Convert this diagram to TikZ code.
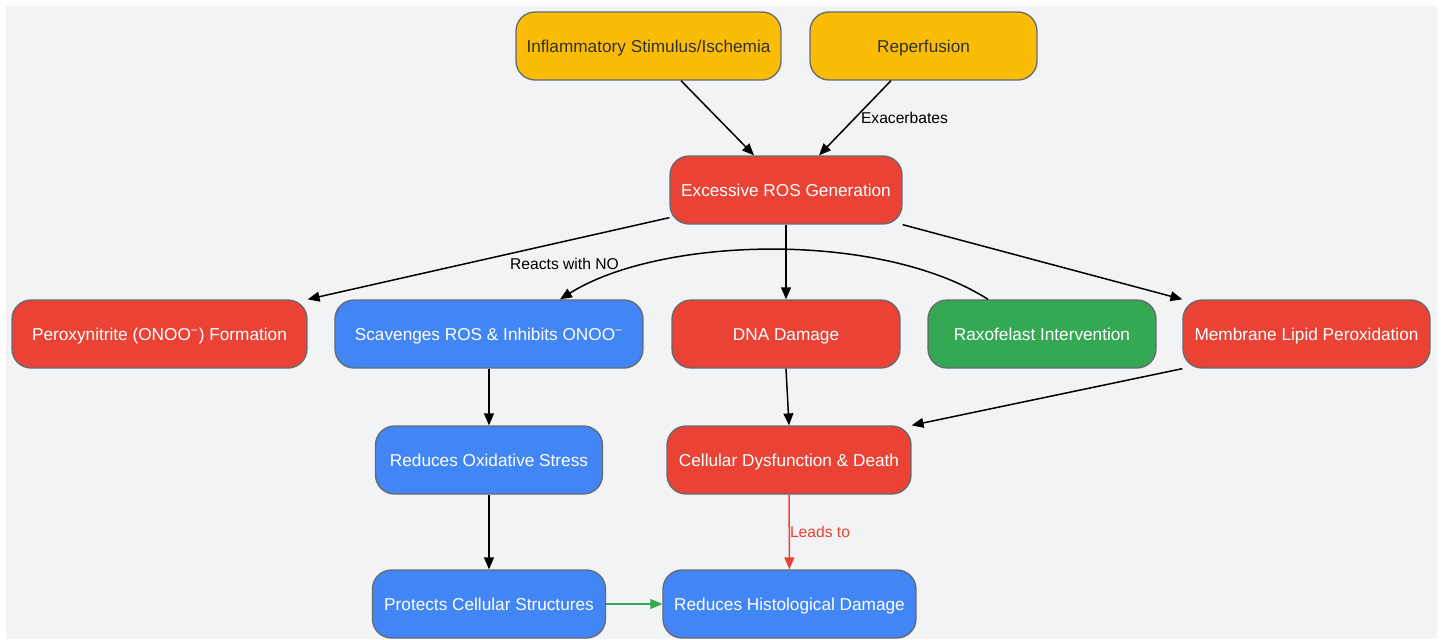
\documentclass[tikz,border=0pt]{standalone}
\usepackage{fontspec}
\setmainfont{Liberation Sans}
\usetikzlibrary{arrows.meta,calc}
\definecolor{bgc}{HTML}{F1F3F5}
\definecolor{ylwc}{HTML}{FBBC05}
\definecolor{redc}{HTML}{EA4335}
\definecolor{bluc}{HTML}{4285F4}
\definecolor{grnc}{HTML}{34A853}
\definecolor{brdc}{HTML}{666A70}
\definecolor{txtc}{HTML}{333333}
\tikzset{%
    nd/.style={rectangle, rounded corners=0.38cm, draw=brdc, line width=0.75pt, inner sep=0pt,
               minimum height=1.36cm, text height=8.3pt, text depth=1pt,
               font=\fontsize{9.8}{12}\selectfont},
    ynd/.style={nd, fill=ylwc, text=txtc},
    rnd/.style={nd, fill=redc, text=white},
    bnd/.style={nd, fill=bluc, text=white},
    gnd/.style={nd, fill=grnc, text=white},
    arr/.style={line width=0.85pt, -{Triangle[length=6.8pt, width=5.6pt]}},
    lbl/.style={font=\fontsize{8.9}{11}\selectfont, text=black, inner sep=2pt},
}
\begin{document}
\begin{tikzpicture}[x=0.02cm, y=-0.02cm]
    \useasboundingbox (0,0) rectangle (1443,639);
    \fill [bgc] (6,6) rectangle (1437,639);
    % top row
    \node [ynd, minimum width=5.3cm]  (inf) at (648.5,46) {Inflammatory Stimulus/Ischemia};
    \node [ynd, minimum width=4.54cm] (rep) at (923.5,46) {Reperfusion};
    \node [rnd, minimum width=4.64cm] (ros) at (786,190) {Excessive ROS Generation};
    % middle row
    \node [rnd, minimum width=5.9cm]  (per) at (159.5,334) {Peroxynitrite (ONOO\textsuperscript{−}) Formation};
    \node [bnd, minimum width=6.16cm] (scv) at (489,334) {Scavenges ROS \& Inhibits ONOO\textsuperscript{−}};
    \node [rnd, minimum width=4.56cm] (dna) at (786,334) {DNA Damage};
    \node [gnd, minimum width=4.56cm] (rax) at (1042,334) {Raxofelast Intervention};
    \node [rnd, minimum width=4.94cm] (mem) at (1306.5,334) {Membrane Lipid Peroxidation};
    % lower rows
    \node [bnd, minimum width=4.54cm] (rox) at (489,460) {Reduces Oxidative Stress};
    \node [rnd, minimum width=4.88cm] (cel) at (789,460) {Cellular Dysfunction \& Death};
    \node [bnd, minimum width=4.66cm] (pro) at (489,604) {Protects Cellular Structures};
    \node [bnd, minimum width=5.06cm] (his) at (789.5,604) {Reduces Histological Damage};

    \draw [arr] ($(inf.south)+(32.5,0)$) -- ($(ros.north)+(-32,0)$);
    \draw [arr] ($(rep.south)+(-32.5,0)$) -- ($(ros.north)+(33,0)$)node[lbl,midway,right,inner sep=3pt]{Exacerbates};
    \draw [arr] ($(ros.south west)+(0,-7)$) -- (per.north east)node[lbl,pos=0.29,below=7pt]{Reacts with NO};
    \draw [arr] (ros) -- (dna);
    \draw [arr] (ros.south east) -- (mem.north west);
    \draw [arr] ($(rax.north)+(-54,0)$) .. controls +(-108,-69) and +(100,-63) .. ($(scv.north)+(71,0)$);
    \draw [arr] (scv) -- (rox);
    \draw [arr] (dna.south) -- (cel.north);
    \draw [arr] (mem.south west) -- (cel.north east);
    \draw [arr] (rox) -- (pro);
    \draw [arr, draw=redc, fill=redc] (cel) -- (his)node[lbl,midway,right,inner sep=0pt,text=redc]{Leads to};
    \draw [arr, draw=grnc, fill=grnc] (pro) -- (his);
\end{tikzpicture}
\end{document}
